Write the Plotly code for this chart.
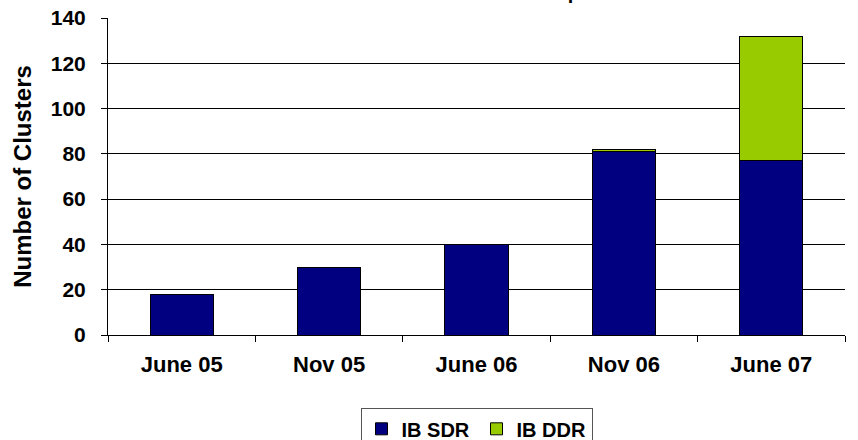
import plotly.graph_objects as go

# data
periods = ["June 05", "Nov 05", "June 06", "Nov 06", "June 07"]
ib_sdr = [18, 30, 40, 81, 77]
ib_ddr = [0, 0, 0, 1, 55]
y_ticks = [0, 20, 40, 60, 80, 100, 120, 140]

FONT = "Liberation Sans, Arial, sans-serif"

fig = go.Figure()
fig.add_trace(go.Bar(
    x=periods, y=ib_sdr, name="IB SDR",
    marker=dict(color="#000080", line=dict(color="#000000", width=1))
))
fig.add_trace(go.Bar(
    x=periods, y=ib_ddr, name="IB DDR",
    marker=dict(color="#99CC00", line=dict(color="#000000", width=1))
))

# title sits almost entirely above the visible page in the reference
fig.add_annotation(
    text="InfiniBand Clusters in the Top500", xref="paper", yref="paper",
    x=0.5, y=1.04, xanchor="center", yanchor="bottom", showarrow=False,
    xshift=-22,
    font=dict(family=FONT, size=20, color="#000000", weight="bold")
)

fig.update_layout(
    barmode="stack", bargap=0.57,
    width=858, height=440,
    plot_bgcolor="#FFFFFF", paper_bgcolor="#FFFFFF",
    margin=dict(l=108, r=13, t=18, b=105),
    font=dict(family=FONT, color="#000000", weight="bold"),
    showlegend=True,
    legend=dict(
        orientation="h", x=0.5, xanchor="center",
        yref="container", y=0.072, yanchor="top",
        bordercolor="#555555", borderwidth=1,
        font=dict(family=FONT, size=20, weight="bold"),
        entrywidth=70, entrywidthmode="pixels", traceorder="normal"
    ),
    xaxis=dict(
        automargin=False,
        showline=True, linecolor="#000000", linewidth=1,
        ticks="outside", ticklen=6, tickcolor="#000000", tickson="boundaries",
        ticklabelstandoff=10,
        tickfont=dict(family=FONT, size=22, weight="bold"),
        showgrid=False
    ),
    yaxis=dict(
        automargin=False,
        range=[0, 140], tickvals=y_ticks,
        showline=True, linecolor="#000000", linewidth=1,
        ticks="outside", ticklen=6, tickcolor="#000000",
        ticklabelstandoff=11,
        showgrid=True, gridcolor="#000000", gridwidth=1,
        zeroline=False,
        tickfont=dict(family=FONT, size=21, weight="bold"),
        title=dict(text="Number of Clusters", standoff=12,
                   font=dict(family=FONT, size=24, weight="bold"))
    )
)

# drop the browser's default body margin so the 858x440 figure fills the window
fig.write_html("out.html", config={"displayModeBar": False},
               post_script="document.body.style.margin='0';")
